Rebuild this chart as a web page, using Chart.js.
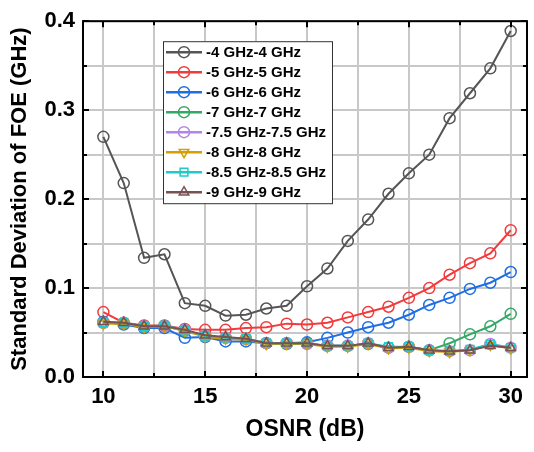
<!DOCTYPE html>
<html>
<head>
<meta charset="utf-8">
<script src="https://cdn.jsdelivr.net/npm/chart.js@4.4.1/dist/chart.umd.min.js"></script>
<style>
  html, body { margin: 0; padding: 0; background: #ffffff; }
</style>
</head>
<body>
<canvas id="foeChart" width="534" height="452"></canvas>
<script>
// OSNR values (dB)
const osnr = [10, 11, 12, 13, 14, 15, 16, 17, 18, 19, 20, 21, 22, 23, 24, 25, 26, 27, 28, 29, 30];

// standard deviation of FOE (GHz), one array per range
const foe4  = [0.270, 0.218, 0.134, 0.138, 0.083, 0.080, 0.069, 0.070, 0.077, 0.080, 0.102, 0.122, 0.153, 0.177, 0.206, 0.229, 0.250, 0.291, 0.319, 0.347, 0.389];
const foe5  = [0.073, 0.061, 0.058, 0.058, 0.054, 0.053, 0.053, 0.055, 0.056, 0.060, 0.059, 0.061, 0.067, 0.073, 0.079, 0.089, 0.100, 0.115, 0.128, 0.139, 0.165];
const foe6  = [0.062, 0.059, 0.055, 0.055, 0.044, 0.045, 0.040, 0.040, 0.038, 0.038, 0.039, 0.044, 0.050, 0.056, 0.061, 0.070, 0.081, 0.089, 0.099, 0.106, 0.118];
const foe7  = [0.061, 0.060, 0.056, 0.057, 0.052, 0.046, 0.044, 0.043, 0.038, 0.037, 0.038, 0.035, 0.035, 0.037, 0.033, 0.034, 0.030, 0.038, 0.048, 0.057, 0.071];
const foe75 = [0.061, 0.061, 0.057, 0.057, 0.053, 0.046, 0.044, 0.043, 0.038, 0.038, 0.037, 0.035, 0.035, 0.038, 0.033, 0.034, 0.030, 0.029, 0.030, 0.037, 0.033];
const foe8  = [0.060, 0.060, 0.056, 0.057, 0.052, 0.045, 0.043, 0.042, 0.037, 0.037, 0.037, 0.034, 0.034, 0.037, 0.032, 0.033, 0.029, 0.028, 0.030, 0.036, 0.032];
const foe85 = [0.061, 0.061, 0.057, 0.058, 0.053, 0.046, 0.044, 0.043, 0.038, 0.038, 0.038, 0.035, 0.035, 0.038, 0.034, 0.034, 0.030, 0.029, 0.031, 0.037, 0.033];
const foe9  = [0.062, 0.061, 0.057, 0.057, 0.053, 0.047, 0.045, 0.043, 0.038, 0.038, 0.038, 0.035, 0.035, 0.038, 0.033, 0.034, 0.030, 0.029, 0.030, 0.035, 0.033];

const seriesLabels = ['-4 GHz-4 GHz', '-5 GHz-5 GHz', '-6 GHz-6 GHz', '-7 GHz-7 GHz',
                      '-7.5 GHz-7.5 GHz', '-8 GHz-8 GHz', '-8.5 GHz-8.5 GHz', '-9 GHz-9 GHz'];

// tick positions (grid every half step) and the labelled ones
const xTicks = [10, 12.5, 15, 17.5, 20, 22.5, 25, 27.5, 30];
const xLabels = [10, 15, 20, 25, 30];
const yTicks = [0, 0.05, 0.1, 0.15, 0.2, 0.25, 0.3, 0.35, 0.4];
const yLabels = [0, 0.1, 0.2, 0.3, 0.4];

const FONT = "'Liberation Sans', Arial, sans-serif";

const styles = [
    { color: '#555555', point: 'circle' },
    { color: '#f23b3d', point: 'circle' },
    { color: '#1f6ee3', point: 'circle' },
    { color: '#34a866', point: 'circle' },
    { color: '#b485e6', point: 'circle' },
    { color: '#d4a000', point: 'triangle', rot: 180 },
    { color: '#1ccbcb', point: 'rect' },
    { color: '#7a5050', point: 'triangle' }
];

const allSeries = [foe4, foe5, foe6, foe7, foe75, foe8, foe85, foe9];

const isLabel = (list, v) => list.some(l => Math.abs(l - v) < 1e-6);

function drawMarker(ctx, st, x, y, r) {
    ctx.save();
    ctx.strokeStyle = st.color;
    ctx.fillStyle = 'rgba(0,0,0,0)';
    ctx.lineWidth = 1.5;
    if (Chart.helpers && Chart.helpers.drawPoint) {
        Chart.helpers.drawPoint(ctx, { pointStyle: st.point, rotation: st.rot || 0, radius: r, borderWidth: 1.5 }, x, y);
    } else {
        ctx.beginPath();
        ctx.arc(x, y, r, 0, Math.PI * 2);
        ctx.stroke();
    }
    ctx.restore();
}

// frame, inward ticks and the boxed legend
const framePlugin = {
    id: 'framePlugin',
    afterDraw(chart) {
        const ctx = chart.ctx;
        const a = chart.chartArea;
        const xs = chart.scales.x, ys = chart.scales.y;
        ctx.save();
        ctx.strokeStyle = '#000000';
        ctx.lineWidth = 2;
        ctx.strokeRect(a.left, a.top, a.right - a.left, a.bottom - a.top);

        xTicks.forEach(v => {
            const px = Math.round(xs.getPixelForValue(v));
            const len = isLabel(xLabels, v) ? 6 : 4;
            ctx.beginPath();
            ctx.moveTo(px, a.bottom); ctx.lineTo(px, a.bottom - len);
            ctx.moveTo(px, a.top); ctx.lineTo(px, a.top + len);
            ctx.stroke();
        });
        yTicks.forEach(v => {
            const py = Math.round(ys.getPixelForValue(v));
            const len = isLabel(yLabels, v) ? 6 : 4;
            ctx.beginPath();
            ctx.moveTo(a.left, py); ctx.lineTo(a.left + len, py);
            ctx.moveTo(a.right, py); ctx.lineTo(a.right - len, py);
            ctx.stroke();
        });

        // legend
        const lx = a.left + 80, ly = a.top + 20, lw = 169, lh = 162;
        ctx.fillStyle = '#ffffff';
        ctx.fillRect(lx, ly, lw, lh);
        ctx.strokeStyle = '#333333';
        ctx.lineWidth = 1;
        ctx.strokeRect(lx + 0.5, ly + 0.5, lw, lh);
        ctx.font = 'bold 15px ' + FONT;
        ctx.textBaseline = 'middle';
        chart.data.datasets.forEach((ds, i) => {
            const st = styles[i];
            const cy = ly + 11 + i * 20;
            ctx.strokeStyle = st.color;
            ctx.lineWidth = 2.5;
            ctx.beginPath();
            ctx.moveTo(lx + 3, cy); ctx.lineTo(lx + 39, cy);
            ctx.stroke();
            drawMarker(ctx, st, lx + 21, cy, 5.5);
            ctx.fillStyle = '#000000';
            ctx.fillText(ds.label, lx + 43, cy + 1);
        });
        ctx.restore();
    }
};

const datasets = allSeries.map((vals, i) => ({
    label: seriesLabels[i],
    data: osnr.map((x, k) => ({ x: x, y: vals[k] })),
    borderColor: styles[i].color,
    backgroundColor: 'rgba(0,0,0,0)',
    borderWidth: 2,
    pointStyle: styles[i].point,
    pointRotation: styles[i].rot || 0,
    pointRadius: 5.5,
    pointBorderWidth: 1.5,
    pointBorderColor: styles[i].color,
    pointBackgroundColor: 'rgba(0,0,0,0)',
    tension: 0,
    order: 7 - i
}));

const ctxFoe = document.getElementById('foeChart').getContext('2d');
const foeChart = new Chart(ctxFoe, {
    type: 'line',
    data: { datasets: datasets },
    options: {
        responsive: false,
        animation: false,
        layout: { padding: { top: 15, right: 4, left: 0, bottom: 0 } },
        plugins: {
            legend: { display: false },
            tooltip: { enabled: false }
        },
        scales: {
            x: {
                type: 'linear',
                min: 9,
                max: 30.8,
                afterBuildTicks: s => { s.ticks = xTicks.map(v => ({ value: v })); },
                afterFit: s => { s.height = 75; },
                grid: { color: '#c8c8c8', lineWidth: 2, drawTicks: false },
                border: { display: false },
                ticks: {
                    autoSkip: false,
                    maxRotation: 0,
                    padding: 7,
                    color: '#000000',
                    font: { family: FONT, size: 22, weight: 'bold' },
                    callback: v => isLabel(xLabels, v) ? String(v) : ''
                },
                title: {
                    display: true,
                    text: 'OSNR (dB)',
                    color: '#000000',
                    padding: { top: 0, bottom: 9 },
                    font: { family: FONT, size: 23, weight: 'bold' }
                }
            },
            y: {
                type: 'linear',
                min: 0,
                max: 0.4,
                afterBuildTicks: s => { s.ticks = yTicks.map(v => ({ value: v })); },
                afterFit: s => { s.width = 83; },
                grid: { color: '#c8c8c8', lineWidth: 2, drawTicks: false },
                border: { display: false },
                ticks: {
                    autoSkip: false,
                    padding: 8,
                    color: '#000000',
                    font: { family: FONT, size: 22, weight: 'bold' },
                    callback: v => isLabel(yLabels, v) ? v.toFixed(1) : ''
                },
                title: {
                    display: true,
                    text: 'Standard Deviation of FOE (GHz)',
                    color: '#000000',
                    padding: { top: 7, bottom: 0 },
                    font: { family: FONT, size: 22, weight: 'bold' }
                }
            }
        }
    },
    plugins: [framePlugin]
});
</script>
</body>
</html>
